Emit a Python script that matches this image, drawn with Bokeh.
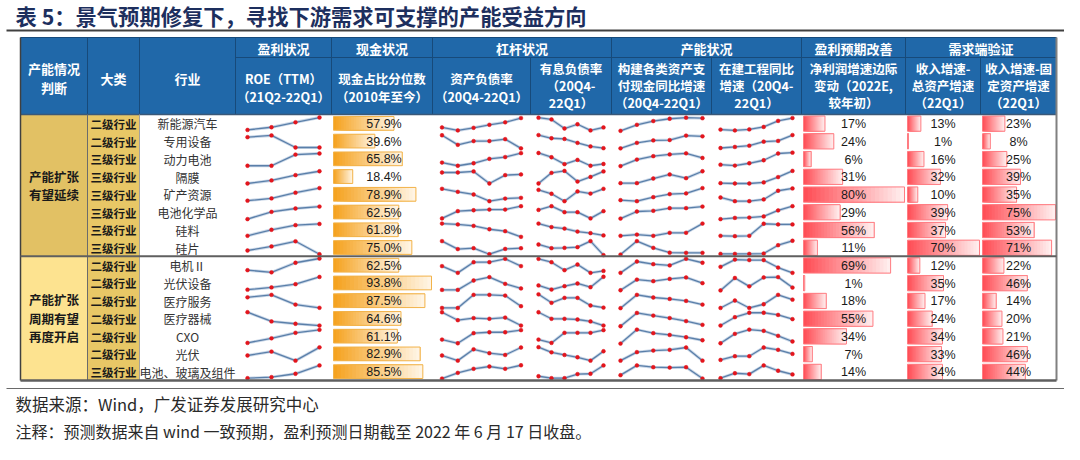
import numpy as np
from bokeh.plotting import figure
from bokeh.models import Range1d, ColumnDataSource
from bokeh.core.properties import value
from bokeh.embed import file_html
from bokeh.resources import INLINE

# ------------------------------------------------------------------ data
title = "表 5：景气预期修复下，寻找下游需求可支撑的产能受益方向"
source_note = "数据来源：Wind，广发证券发展研究中心"
footnote = "注释：预测数据来自 wind 一致预期，盈利预测日期截至 2022 年 6 月 17 日收盘。"

group_labels = [["产能扩张", "有望延续"], ["产能扩张", "周期有望", "再度开启"]]
group_sizes = [8, 7]

levels = ["二级行业", "二级行业", "三级行业", "三级行业", "三级行业", "三级行业", "三级行业", "三级行业",
          "二级行业", "二级行业", "二级行业", "二级行业", "二级行业", "二级行业", "三级行业"]
industries = ["新能源汽车", "专用设备", "动力电池", "隔膜", "矿产资源", "电池化学品", "硅料", "硅片",
              "电机Ⅱ", "光伏设备", "医疗服务", "医疗器械", "CXO", "光伏", "电池、玻璃及组件"]

cash_pct = [57.9, 39.6, 65.8, 18.4, 78.9, 62.5, 61.8, 75.0, 62.5, 93.8, 87.5, 64.6, 61.1, 82.9, 85.5]
profit_chg = [17, 24, 6, 31, 80, 29, 56, 11, 69, 1, 18, 55, 34, 7, 14]
rev_total = [13, 1, 16, 32, 10, 39, 37, 70, 12, 35, 17, 24, 34, 33, 34]
rev_fixed = [23, 8, 25, 39, 35, 75, 53, 71, 22, 46, 14, 20, 21, 46, 44]

# sparkline series (relative level within each row, 0 = low, 100 = high)
roe = [[13, 28, 56, 83], [72, 82, 14, 14], [11, 11, 74, 80], [11, 28, 58, 80], [14, 27, 59, 85],
       [10, 51, 70, 81], [16, 50, 76, 83], [33, 56, 85, 12], [22, 10, 64, 88], [12, 25, 43, 84],
       [69, 83, 28, 10], [85, 33, 20, 10], [12, 38, 69, 86], [41, 63, 12, 87], [13, 19, 38, 85]]
debt = [[27, 10, 25, 42, 56, 80], [83, 29, 50, 50, 61, 9], [29, 11, 25, 50, 60, 82], [73, 73, 79, 11, 58, 62],
        [81, 64, 49, 11, 26, 30], [14, 55, 60, 64, 64, 83], [85, 80, 72, 53, 42, 10], [86, 41, 46, 12, 42, 46],
        [45, 7, 67, 67, 86, 45], [11, 11, 64, 83, 45, 19], [9, 9, 83, 83, 79, 19], [85, 40, 52, 48, 55, 10],
        [31, 10, 67, 72, 72, 84], [41, 12, 76, 54, 44, 86], [11, 43, 66, 79, 66, 86]]
int_debt = [[82, 72, 21, 45, 10, 27], [84, 66, 62, 40, 20, 10], [83, 59, 20, 44, 11, 21], [11, 71, 82, 22, 48, 79],
            [75, 53, 11, 66, 54, 81], [62, 83, 49, 49, 14, 55], [85, 65, 57, 40, 31, 18], [67, 46, 48, 52, 86, 7],
            [86, 67, 22, 54, 7, 18], [36, 13, 32, 47, 26, 85], [86, 38, 66, 66, 23, 11], [85, 48, 48, 44, 33, 10],
            [31, 12, 69, 69, 69, 84], [88, 59, 44, 31, 12, 65], [24, 13, 13, 36, 38, 85]]
capex = [[8, 42, 63, 76, 82, 79], [9, 40, 54, 56, 81, 77], [9, 46, 65, 75, 81, 55], [13, 13, 39, 62, 41, 80],
         [17, 11, 34, 51, 55, 85], [13, 53, 57, 72, 72, 81], [16, 23, 16, 33, 33, 85], [10, 86, 48, 21, 20, 20],
         [7, 71, 56, 49, 86, 64], [9, 69, 60, 73, 81, 49], [8, 83, 68, 60, 49, 28], [6, 81, 66, 52, 35, 14],
         [8, 87, 67, 57, 44, 27], [12, 60, 69, 73, 86, 12], [30, 85, 75, 73, 75, 11]]
wip = [[15, 10, 16, 30, 64, 80], [11, 17, 24, 47, 51, 84], [17, 12, 25, 42, 80, 85], [13, 11, 11, 17, 47, 82],
       [32, 11, 11, 21, 70, 83], [10, 17, 19, 25, 59, 83], [16, 14, 16, 84, 80, 80], [14, 14, 14, 16, 63, 88],
       [41, 82, 79, 79, 37, 7], [8, 78, 31, 81, 83, 24], [9, 51, 9, 30, 83, 56], [10, 57, 82, 82, 70, 46],
       [10, 63, 87, 80, 52, 20], [16, 37, 37, 86, 73, 50], [13, 41, 36, 85, 55, 34]]

group_headers = ["盈利状况", "现金状况", "杠杆状况", "产能状况", "盈利预期改善", "需求端验证"]
left_headers = [["产能情况", "判断"], ["大类"], ["行业"]]
sub_headers = [
    ["ROE（TTM）", "（21Q2-22Q1）"],
    ["现金占比分位数", "（2010年至今）"],
    ["资产负债率", "（20Q4-22Q1）"],
    ["有息负债率", "（20Q4-", "22Q1）"],
    ["构建各类资产支", "付现金同比增速", "（20Q4-22Q1）"],
    ["在建工程同比", "增速（20Q4-", "22Q1）"],
    ["净利润增速边际", "变动（2022E,", "较年初）"],
    ["收入增速-", "总资产增速", "（22Q1）"],
    ["收入增速-固", "定资产增速", "（22Q1）"],
]

# ------------------------------------------------------------------ layout
COLS = [22, 89, 141, 237, 333, 434, 532, 613, 713, 803, 907, 982, 1058]
HEAD_TOP, HEAD_MID, HEAD_BOT, TABLE_BOT = 40, 60, 117, 383
NROW = len(industries)
ROW_H = (TABLE_BOT - HEAD_BOT) / NROW
group_spans = [(3, 4), (4, 5), (5, 7), (7, 9), (9, 10), (10, 12)]

CJK = "Noto Sans CJK SC"
LAT = "Liberation Sans"
HEAD_BLUE = "#2068A9"
HEAD_LINE = "#174A7A"

X0, Y0 = 2, 3
p = figure(width=1064, height=444, x_range=Range1d(X0, X0 + 1064), y_range=Range1d(Y0 + 444, Y0),
           x_axis_type=None, y_axis_type=None, output_backend="svg", toolbar_location=None,
           min_border=0)
p.outline_line_color = None
p.background_fill_color = "white"
p.border_fill_color = "white"

texts = dict(x=[], y=[], text=[], size=[], color=[], font=[], style=[], align=[])


def add_text(x, y, s, size, color, font=CJK, style="normal", align="center"):
    texts["x"].append(x); texts["y"].append(y); texts["text"].append(s)
    texts["size"].append(f"{size}px"); texts["color"].append(color)
    texts["font"].append(font); texts["style"].append(style); texts["align"].append(align)


def row_top(i):
    return HEAD_BOT + i * ROW_H


# ---- backgrounds
p.quad(left=[COLS[0]], right=[COLS[-1]], top=[HEAD_TOP], bottom=[HEAD_BOT], fill_color=HEAD_BLUE, line_color=None)
g_bounds = np.cumsum([0] + group_sizes)
g_fill = ["#E2C164", "#FDE390"]
for g in range(len(group_sizes)):
    p.quad(left=[COLS[0]], right=[COLS[1]], top=[row_top(g_bounds[g])], bottom=[row_top(g_bounds[g + 1])],
           fill_color=g_fill[g], line_color=None)
p.quad(left=[COLS[1]], right=[COLS[2]], top=[HEAD_BOT], bottom=[TABLE_BOT], fill_color="#E8C766", line_color=None)


# ---- gradient data bars
def hex2rgb(h):
    return tuple(int(h[k:k + 2], 16) for k in (1, 3, 5))


def mix(c0, c1, t):
    return "#%02x%02x%02x" % tuple(int(round(a + (b - a) * t)) for a, b in zip(c0, c1))


bar_specs = [
    (4, cash_pct, "{:.1f}%", "#F5A11C", "#FFF6E8", "#F2B34A", 2.0, 2.0, 2),
    (9, profit_chg, "{:.0f}%", "#FF4B53", "#FFF1F1", "#FF7C82", 1.5, 1.0, 0),
    (10, rev_total, "{:.0f}%", "#FF4B53", "#FFF1F1", "#FF7C82", 1.5, 1.0, 0),
    (11, rev_fixed, "{:.0f}%", "#FF4B53", "#FFF1F1", "#FF7C82", 1.5, 1.0, 0),
]
NSEG = 24
for ci, vals, fmt, c0, c1, edge, pt, pb, tdx in bar_specs:
    L, R = COLS[ci], COLS[ci + 1]
    vmax = max(vals)
    span = R - L - 3
    ql, qr, qt, qb, qc = [], [], [], [], []
    el, er, et, eb = [], [], [], []
    r0, r1 = hex2rgb(c0), hex2rgb(c1)
    for i, v in enumerate(vals):
        t0 = row_top(i) + pt
        b0 = row_top(i + 1) - pb
        x0 = L + 2
        x1 = x0 + v / vmax * span
        for k in range(NSEG):
            ql.append(x0 + (x1 - x0) * k / NSEG)
            qr.append(x1)
            qt.append(t0); qb.append(b0)
            qc.append(mix(r0, r1, (k + 0.5) / NSEG))
        el.append(x0); er.append(x1); et.append(t0); eb.append(b0)
        add_text((L + R) / 2 + tdx, (t0 + b0) / 2 + 0.5, fmt.format(v), 12.5, "#1a1a1a", LAT)
    p.quad(left=ql, right=qr, top=qt, bottom=qb, fill_color=qc, line_color=None)
    p.quad(left=el, right=er, top=et, bottom=eb, fill_color=None, line_color=edge, line_width=1)

# ---- sparklines
spark_specs = [(3, roe, 12), (5, debt, 9.5), (6, int_debt, 8), (7, capex, 9), (8, wip, 9)]
for ci, series, pad in spark_specs:
    L, R = COLS[ci], COLS[ci + 1]
    xs, ys = [], []
    for i, vals in enumerate(series):
        xx = list(np.linspace(L + pad, R - pad, len(vals)))
        yy = [row_top(i + 1) - v / 100 * ROW_H for v in vals]
        xs.append(xx); ys.append(yy)
    p.multi_line(xs=xs, ys=ys, line_color="#CBD8E8", line_width=3.0)
    p.multi_line(xs=xs, ys=ys, line_color="#5A7FA9", line_width=1.3)
    p.scatter(x=sum(xs, []), y=sum(ys, []), marker="circle", size=3.8, fill_color="#E3151C",
              line_color="#E3151C", line_width=0.5)

# ---- grid / border lines
segs = dict(x0=[], y0=[], x1=[], y1=[], c=[], w=[])


def seg(x0, y0, x1, y1, c, w):
    segs["x0"].append(x0); segs["y0"].append(y0); segs["x1"].append(x1); segs["y1"].append(y1)
    segs["c"].append(c); segs["w"].append(w)


full_cols = [1, 2, 3, 4, 5, 7, 9, 10]
for ci in full_cols:
    seg(COLS[ci], HEAD_TOP, COLS[ci], HEAD_BOT, HEAD_LINE, 1)
for ci in [6, 8, 11]:
    seg(COLS[ci], HEAD_MID, COLS[ci], HEAD_BOT, HEAD_LINE, 1)
seg(COLS[3], HEAD_MID, COLS[-1], HEAD_MID, HEAD_LINE, 1)
seg(COLS[0], HEAD_TOP, COLS[-1], HEAD_TOP, HEAD_LINE, 1)
seg(COLS[0], HEAD_BOT, COLS[-1], HEAD_BOT, "#3A5878", 1.5)
seg(COLS[1], HEAD_BOT, COLS[1], TABLE_BOT, "#6b6b6b", 1)
seg(COLS[2], HEAD_BOT, COLS[2], TABLE_BOT, "#a0a0a0", 1)
seg(COLS[0], HEAD_TOP, COLS[0], TABLE_BOT, "#404040", 1.5)
seg(COLS[-1], HEAD_TOP, COLS[-1], TABLE_BOT, "#808080", 2)
seg(COLS[0], row_top(g_bounds[1]), COLS[-1], row_top(g_bounds[1]), "#5f5f5f", 2)
seg(COLS[0], TABLE_BOT, COLS[-1], TABLE_BOT, "#5f5f5f", 2.5)
seg(8, 33, 1075, 33, "#404040", 2)
seg(8, 391, 1075, 391, "#6a6a6a", 1.2)
p.segment(x0="x0", y0="y0", x1="x1", y1="y1", line_color="c", line_width="w",
          source=ColumnDataSource(segs))

# ---- header text
hx = lambda a, b: (COLS[a] + COLS[b]) / 2
for (a, b), s in zip(group_spans, group_headers):
    add_text(hx(a, b), 51, s, 13, "white", CJK, "bold")
add_text(hx(0, 1), 71, left_headers[0][0], 13, "white", CJK, "bold")
add_text(hx(0, 1), 90, left_headers[0][1], 13, "white", CJK, "bold")
add_text(hx(1, 2), 81, left_headers[1][0], 13, "white", CJK, "bold")
add_text(hx(2, 3), 81, left_headers[2][0], 13, "white", CJK, "bold")
for k, lines in enumerate(sub_headers):
    ci = 3 + k
    ys = [81, 99] if len(lines) == 2 else [71, 88, 105]
    for s, yy in zip(lines, ys):
        add_text(hx(ci, ci + 1), yy, s, 12.5, "white", CJK, "bold")

# ---- row text
for i in range(NROW):
    yc = row_top(i) + ROW_H / 2 + 0.5
    add_text(hx(1, 2), yc, levels[i], 11.5, "#1a1a1a", CJK, "bold")
    add_text(hx(2, 3), yc, industries[i], 12, "#333333", CJK, "normal")
for g, labels in enumerate(group_labels):
    yc = (row_top(g_bounds[g]) + row_top(g_bounds[g + 1])) / 2
    n = len(labels)
    for j, s in enumerate(labels):
        add_text(hx(0, 1), yc + (j - (n - 1) / 2) * 18.5, s, 12.5, "#1a1a1a", CJK, "bold")

# ---- title / notes
add_text(17, 18, title, 21.3, "#1D2F5E", CJK, "bold", "left")
add_text(17, 406, source_note, 16.5, "#2a2a2a", CJK, "normal", "left")
add_text(17, 433.5, footnote, 16, "#2a2a2a", CJK, "normal", "left")

for font in sorted(set(texts["font"])):
    for style in sorted(set(texts["style"])):
        for align in sorted(set(texts["align"])):
            idx = [k for k in range(len(texts["x"]))
                   if texts["font"][k] == font and texts["style"][k] == style and texts["align"][k] == align]
            if not idx:
                continue
            sub = ColumnDataSource({key: [texts[key][k] for k in idx] for key in texts})
            p.text(x="x", y="y", text="text", text_font_size="size", text_color="color",
                   text_font=value(font), text_font_style=style, text_align=align,
                   text_baseline="middle", source=sub)

open("out.html", "w").write(file_html(p, INLINE))
